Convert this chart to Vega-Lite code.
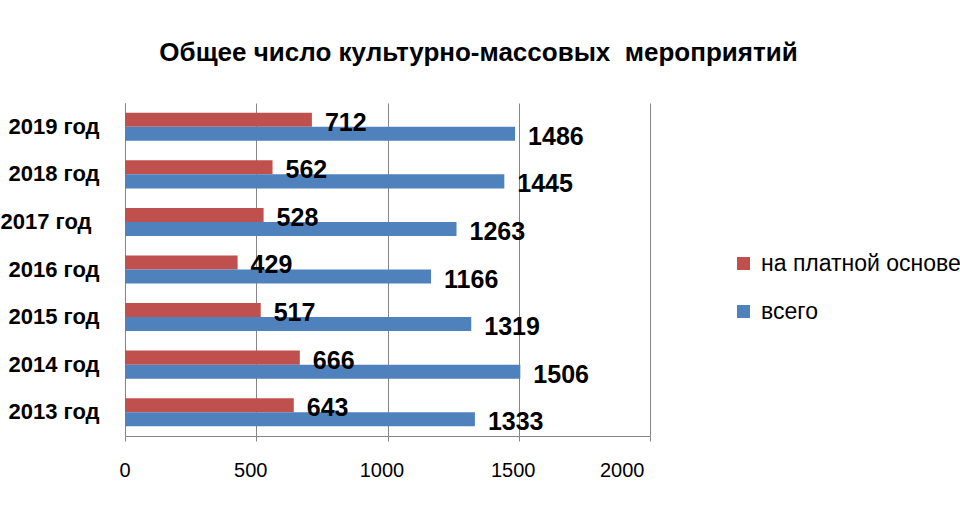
{
  "$schema": "https://vega.github.io/schema/vega-lite/v6.json",
  "width": 525,
  "height": 333,
  "autosize": {"type": "none"},
  "padding": {"left": 125, "top": 103, "right": 310, "bottom": 74},
  "background": "white",
  "title": {
    "text": "Общее число культурно-массовых\u00a0 мероприятий",
    "font": "Liberation Sans",
    "fontSize": 26,
    "fontWeight": "bold",
    "color": "#000000",
    "anchor": "middle",
    "dx": 91,
    "offset": 37
  },
  "data": {
    "values": [
      {"year": "2019 год", "series": "на платной основе", "value": 712},
      {"year": "2019 год", "series": "всего", "value": 1486},
      {"year": "2018 год", "series": "на платной основе", "value": 562},
      {"year": "2018 год", "series": "всего", "value": 1445},
      {"year": "2017 год", "series": "на платной основе", "value": 528},
      {"year": "2017 год", "series": "всего", "value": 1263},
      {"year": "2016 год", "series": "на платной основе", "value": 429},
      {"year": "2016 год", "series": "всего", "value": 1166},
      {"year": "2015 год", "series": "на платной основе", "value": 517},
      {"year": "2015 год", "series": "всего", "value": 1319},
      {"year": "2014 год", "series": "на платной основе", "value": 666},
      {"year": "2014 год", "series": "всего", "value": 1506},
      {"year": "2013 год", "series": "на платной основе", "value": 643},
      {"year": "2013 год", "series": "всего", "value": 1333}
    ]
  },
  "encoding": {
    "y": {
      "field": "year",
      "type": "nominal",
      "sort": ["2019 год", "2018 год", "2017 год", "2016 год", "2015 год", "2014 год", "2013 год"],
      "scale": {"paddingInner": 0.41, "paddingOuter": 0.205},
      "axis": {
        "title": null,
        "ticks": false,
        "labelFont": "Liberation Sans",
        "labelFontSize": 22,
        "labelFontWeight": "bold",
        "labelColor": "#000000",
        "labelPadding": {"condition": {"test": "datum.value == '2017 год'", "value": 34}, "value": 26},
        "domainColor": "#868686"
      }
    },
    "yOffset": {
      "field": "series",
      "sort": ["на платной основе", "всего"],
      "scale": {"paddingInner": 0, "paddingOuter": 0}
    },
    "x": {
      "field": "value",
      "type": "quantitative",
      "scale": {"domain": [0, 2000]},
      "axis": {
        "title": null,
        "values": [0, 500, 1000, 1500, 2000],
        "format": "d",
        "grid": true,
        "gridColor": "#868686",
        "domainColor": "#868686",
        "tickColor": "#868686",
        "tickSize": 5,
        "labelPadding": 19,
        "labelOffset": -6,
        "labelFont": "Liberation Sans",
        "labelFontSize": 20,
        "labelColor": "#000000"
      }
    }
  },
  "layer": [
    {
      "mark": {"type": "bar"},
      "encoding": {
        "color": {
          "field": "series",
          "type": "nominal",
          "scale": {"domain": ["на платной основе", "всего"], "range": ["#C0504D", "#4F81BD"]},
          "legend": {
            "title": null,
            "orient": "none",
            "legendX": 607,
            "legendY": 149,
            "symbolType": "square",
            "symbolSize": 169,
            "labelFont": "Liberation Sans",
            "labelFontSize": 23,
            "labelColor": "#000000",
            "labelOffset": 6,
            "labelLimit": 300,
            "rowPadding": 24
          }
        }
      }
    },
    {
      "mark": {
        "type": "text",
        "align": "left",
        "baseline": "middle",
        "dx": 13,
        "dy": 3,
        "font": "Liberation Sans",
        "fontSize": 25,
        "fontWeight": "bold",
        "color": "#000000"
      },
      "encoding": {
        "text": {"field": "value", "type": "quantitative"}
      }
    }
  ],
  "config": {
    "view": {"stroke": null}
  }
}
